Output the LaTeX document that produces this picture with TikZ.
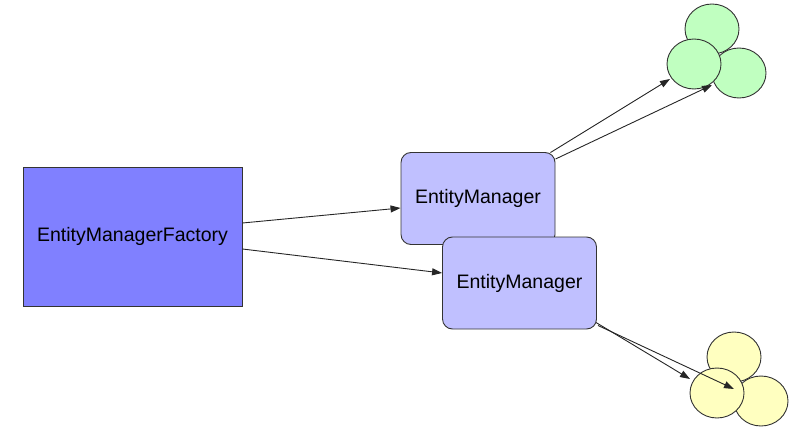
\documentclass[tikz,border=0pt]{standalone}
\usepackage{fontspec}
\setmainfont{Liberation Sans}
\usetikzlibrary{shapes.geometric,arrows.meta}
\definecolor{facfill}{HTML}{8080FF}
\definecolor{emfill}{HTML}{C0C0FF}
\definecolor{gfill}{HTML}{C0FFC0}
\definecolor{yfill}{HTML}{FFFFC0}
\definecolor{edge}{HTML}{333333}
\tikzset{
  fac/.style={draw=edge,line width=0.9pt,fill=facfill,rectangle,minimum width=219pt,minimum height=139pt,inner sep=0pt,font=\fontsize{19.5pt}{22pt}\selectfont},
  embox/.style={draw=edge,line width=0.9pt,fill=emfill,rectangle,rounded corners=10pt,minimum width=154pt,minimum height=92pt,inner sep=0pt,font=\fontsize{19.5pt}{22pt}\selectfont},
  blob/.style={draw=edge,line width=0.9pt,ellipse,minimum width=54pt,minimum height=50pt,inner sep=0pt},
  arr/.style={draw=black!85,line width=0.9pt,-{Triangle[length=10pt,width=7pt]}}
}
\begin{document}
\begin{tikzpicture}[x=1pt,y=-1pt]
\useasboundingbox (0,0) rectangle (799,438);
% green group
\node[blob,fill=gfill] (gA) at (712,29) {};
\node[blob,fill=gfill] (gC) at (739,73) {};
\node[blob,fill=gfill] (gB) at (694,64) {};
% yellow group
\node[blob,fill=yfill] (yA) at (734,357) {};
\node[blob,fill=yfill] (yC) at (761,401) {};
\node[blob,fill=yfill] (yB) at (717,393) {};
% boxes
\node[fac] (fac) at (132.5,236.5) {EntityManagerFactory};
\node[embox] (em1) at (478,198.5) {EntityManager};
\node[embox] (em2) at (519.5,283) {EntityManager};
% free ends
\coordinate (t1) at (670,79);
\coordinate (t2) at (712,85);
\coordinate (t3) at (690,379);
\coordinate (t4) at (734,389);
% arrows
\draw[arr] ([yshift=13.5pt]fac.east) -- ([yshift=-9.5pt]em1.west);
\draw[arr] ([yshift=-12.5pt]fac.east) -- ([yshift=10pt]em2.west);
\draw[arr] ([xshift=-5pt,yshift=-0.5pt]em1.north east) -- (t1);
\draw[arr] ([yshift=-7pt]em1.north east) -- (t2);
\draw[arr] ([xshift=-1pt,yshift=7pt]em2.south east) -- (t3);
\draw[arr] ([xshift=1pt,yshift=4pt]em2.south east) -- (t4);
\end{tikzpicture}
\end{document}
